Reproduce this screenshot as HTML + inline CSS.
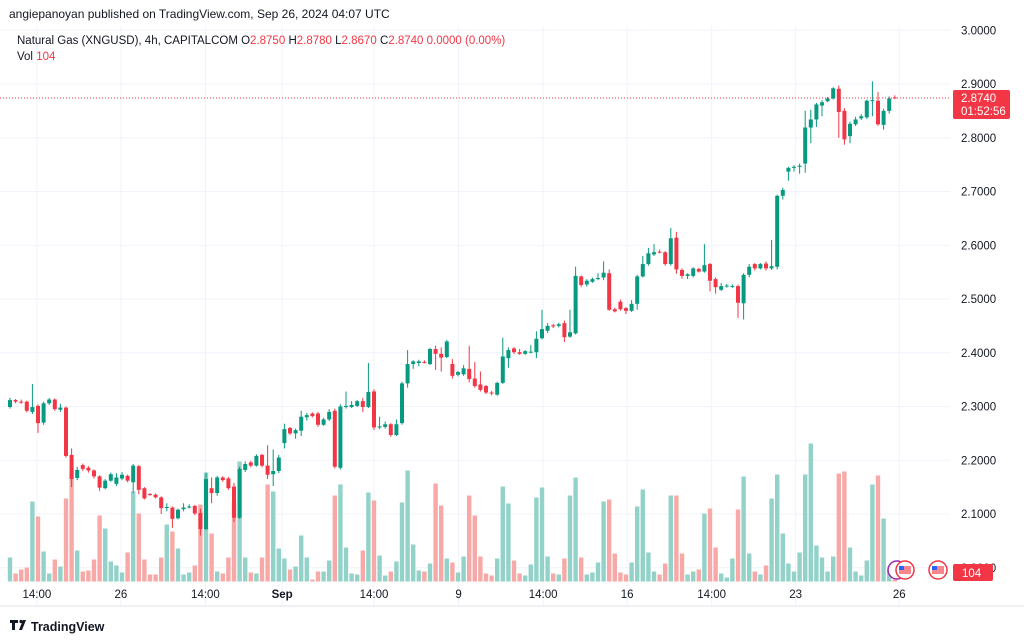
<!DOCTYPE html>
<html><head><meta charset="utf-8"><style>
html,body{margin:0;padding:0;background:#fff;width:1024px;height:641px;overflow:hidden;font-family:"Liberation Sans",sans-serif}
</style></head><body>
<svg id="chart" width="1024" height="641" xmlns="http://www.w3.org/2000/svg" style="position:absolute;left:0;top:0">
<rect x="0" y="0" width="1024" height="641" fill="#fff"/>
<g id="grid"></g>
<g id="vols"></g>
<line x1="0" y1="98" x2="950" y2="98" stroke="#F23645" stroke-width="1" stroke-dasharray="1,2"/>
<g id="candles"></g>
<g id="yaxis"></g>
<g id="xaxis"></g>
<line x1="0" y1="606" x2="1024" y2="606" stroke="#e0e3eb"/>
<text x="9" y="18" font-size="12" fill="#131722">angiepanoyan published on TradingView.com, Sep 26, 2024 04:07 UTC</text>
<text x="17" y="44" font-size="11.5" fill="#131722">Natural Gas (XNGUSD), 4h, CAPITALCOM <tspan>O</tspan><tspan fill="#F23645">2.8750</tspan> <tspan>H</tspan><tspan fill="#F23645">2.8780</tspan> <tspan>L</tspan><tspan fill="#F23645">2.8670</tspan> <tspan>C</tspan><tspan fill="#F23645">2.8740 0.0000 (0.00%)</tspan></text>
<text x="17" y="60" font-size="11.5" fill="#131722">Vol <tspan fill="#F23645">104</tspan></text>
<g>
<rect x="953" y="90" width="57" height="29" rx="2" fill="#F23645"/>
<text x="961" y="102" font-size="11.5" fill="#fff">2.8740</text>
<text x="961" y="115" font-size="11.5" fill="#fff">01:52:56</text>
</g>
<g>
<circle cx="897" cy="570" r="9" fill="#fff" stroke="#9c27b0" stroke-width="1.5"/>
<circle cx="905" cy="570" r="9" fill="#fff" stroke="#F23645" stroke-width="1.5"/>
<rect x="899" y="566" width="12" height="8" fill="#F23645" opacity="0.6"/><rect x="899" y="566" width="5" height="4" fill="#2962ff"/>
<circle cx="938" cy="570" r="9" fill="#fff" stroke="#F23645" stroke-width="1.5"/>
<rect x="932" y="566" width="12" height="8" fill="#F23645" opacity="0.6"/><rect x="932" y="566" width="5" height="4" fill="#2962ff"/>
</g>
<g>
<rect x="953" y="564" width="40" height="17" rx="2" fill="#F23645"/>
<text x="962" y="577" font-size="11.5" fill="#fff">104</text>
</g>
<g>
<path d="M10 620 h8 v3 h-3 v7 h-3 v-7 h-2z M19 630 l4 -10 h3 l-4 10z" fill="#131722"/>
<circle cx="21" cy="621.5" r="1.6" fill="#131722"/>
<text x="31" y="631" font-size="12.5" font-weight="bold" fill="#131722">TradingView</text>
</g>
</svg>
<script>
const opens=[2.299,2.312,2.309,2.309,2.290,2.301,2.270,2.306,2.313,2.294,2.298,2.210,2.167,2.191,2.186,2.181,2.170,2.148,2.162,2.156,2.166,2.171,2.159,2.189,2.148,2.137,2.136,2.131,2.112,2.112,2.092,2.109,2.114,2.115,2.102,2.072,2.148,2.139,2.168,2.166,2.151,2.093,2.182,2.196,2.190,2.210,2.190,2.174,2.180,2.232,2.260,2.250,2.255,2.280,2.287,2.287,2.266,2.276,2.292,2.186,
2.299,2.299,2.301,2.310,2.299,2.328,2.261,2.262,2.267,2.247,2.269,2.343,2.379,2.381,2.383,2.379,2.407,2.398,2.392,2.379,2.359,2.360,2.370,2.352,2.341,2.338,2.326,2.322,2.344,2.390,2.408,2.401,2.398,2.401,2.401,2.427,2.441,2.451,2.450,2.455,2.430,2.436,2.542,2.527,2.532,2.538,2.540,2.548,2.481,2.495,2.483,2.478,2.491,2.542,2.565,2.583,2.588,2.587,
2.565,2.614,2.554,2.543,2.543,2.556,2.551,2.565,2.537,2.517,2.525,2.524,2.524,2.492,2.545,2.565,2.557,2.566,2.557,2.560,2.692,2.737,2.744,2.746,2.752,2.819,2.834,2.860,2.868,2.873,2.891,2.850,2.803,2.825,2.836,2.838,2.869,2.869,2.824,2.850,2.875];
const closes=[2.312,2.309,2.308,2.292,2.299,2.269,2.306,2.313,2.295,2.298,2.208,2.165,2.182,2.184,2.181,2.170,2.149,2.162,2.174,2.168,2.173,2.162,2.190,2.145,2.129,2.136,2.131,2.111,2.113,2.091,2.108,2.112,2.114,2.101,2.072,2.165,2.139,2.168,2.163,2.148,2.093,2.184,2.193,2.190,2.208,2.190,2.173,2.180,2.205,2.258,2.250,2.256,2.281,2.284,2.282,2.266,2.276,2.290,2.188,2.300,
2.301,2.303,2.310,2.299,2.327,2.261,2.263,2.267,2.247,2.267,2.343,2.379,2.384,2.384,2.382,2.407,2.398,2.391,2.421,2.357,2.364,2.371,2.351,2.338,2.331,2.326,2.325,2.344,2.393,2.405,2.401,2.398,2.403,2.402,2.426,2.444,2.450,2.449,2.453,2.429,2.438,2.543,2.526,2.534,2.537,2.539,2.549,2.480,2.477,2.481,2.478,2.491,2.542,2.565,2.585,2.587,2.587,2.565,
2.613,2.555,2.543,2.546,2.557,2.551,2.563,2.534,2.522,2.524,2.525,2.524,2.493,2.545,2.560,2.557,2.565,2.557,2.561,2.692,2.703,2.744,2.746,2.748,2.819,2.834,2.862,2.866,2.873,2.892,2.848,2.797,2.826,2.834,2.840,2.869,2.870,2.825,2.850,2.873,2.874];
const highs=[2.316,2.314,2.313,2.311,2.342,2.304,2.309,2.316,2.315,2.305,2.300,2.222,2.188,2.194,2.189,2.183,2.172,2.165,2.177,2.176,2.178,2.173,2.193,2.191,2.150,2.139,2.138,2.133,2.120,2.114,2.110,2.120,2.118,2.117,2.110,2.177,2.168,2.171,2.170,2.169,2.158,2.188,2.198,2.199,2.211,2.212,2.228,2.220,2.210,2.268,2.262,2.259,2.292,2.288,2.289,2.290,2.279,2.295,2.296,2.304,
2.328,2.310,2.312,2.316,2.381,2.332,2.281,2.272,2.269,2.276,2.346,2.405,2.386,2.387,2.386,2.409,2.413,2.410,2.424,2.388,2.366,2.377,2.413,2.383,2.365,2.340,2.329,2.346,2.428,2.410,2.411,2.407,2.405,2.414,2.440,2.480,2.455,2.454,2.456,2.460,2.480,2.560,2.544,2.537,2.540,2.548,2.570,2.555,2.484,2.499,2.485,2.498,2.545,2.580,2.595,2.602,2.592,2.589,
2.632,2.625,2.557,2.548,2.559,2.558,2.602,2.567,2.540,2.530,2.528,2.527,2.527,2.548,2.565,2.567,2.567,2.570,2.610,2.694,2.707,2.746,2.749,2.752,2.850,2.852,2.865,2.870,2.876,2.894,2.897,2.855,2.830,2.839,2.844,2.871,2.905,2.885,2.854,2.877,2.879];
const lows=[2.296,2.306,2.305,2.289,2.286,2.251,2.266,2.303,2.292,2.290,2.205,2.150,2.163,2.180,2.177,2.166,2.143,2.146,2.160,2.152,2.163,2.159,2.139,2.137,2.127,2.134,2.129,2.100,2.105,2.074,2.090,2.105,2.110,2.098,2.060,2.070,2.120,2.134,2.160,2.145,2.085,2.091,2.178,2.187,2.188,2.187,2.165,2.152,2.176,2.222,2.247,2.240,2.245,2.274,2.280,2.262,2.264,2.273,2.185,2.183,
2.296,2.297,2.299,2.290,2.297,2.256,2.258,2.259,2.244,2.245,2.266,2.335,2.370,2.375,2.380,2.377,2.368,2.365,2.390,2.352,2.356,2.357,2.345,2.335,2.328,2.323,2.321,2.320,2.342,2.372,2.398,2.396,2.396,2.399,2.390,2.425,2.437,2.446,2.447,2.420,2.428,2.434,2.522,2.523,2.530,2.535,2.535,2.478,2.475,2.478,2.472,2.476,2.480,2.540,2.562,2.580,2.585,2.562,
2.562,2.547,2.538,2.537,2.540,2.549,2.549,2.514,2.510,2.515,2.521,2.521,2.465,2.462,2.540,2.553,2.555,2.553,2.554,2.555,2.685,2.720,2.737,2.733,2.735,2.790,2.820,2.840,2.866,2.871,2.800,2.787,2.790,2.822,2.833,2.835,2.840,2.822,2.815,2.845,2.872];
const volumes=[24,8,12,14,80,65,30,8,22,15,83,111,31,10,11,22,66,53,20,16,9,29,90,68,22,7,7,24,57,50,33,7,9,16,77,109,48,10,8,24,80,120,24,9,8,24,97,90,33,23,12,15,46,24,2,10,10,21,86,97,
34,8,7,31,89,81,26,6,10,20,79,111,37,11,10,18,98,76,23,19,9,25,86,66,25,8,6,23,95,78,21,8,6,17,84,94,25,8,7,23,86,104,24,7,9,19,80,82,28,9,7,19,75,92,29,10,7,18,
86,86,28,7,10,12,68,73,34,8,4,23,72,105,28,10,7,16,83,107,48,18,10,29,107,138,36,24,10,25,108,110,34,10,6,21,97,106,63,12,2];
const priceTicks=[2.0,2.1,2.2,2.3,2.4,2.5,2.6,2.7,2.8,2.9,3.0];
const timeLabels=["14:00","26","14:00","Sep","14:00","9","14:00","16","14:00","23","26"];
const timeLabelIdx=[4.8,19.8,34.9,48.6,65.0,80.1,95.2,110.2,125.3,140.3,158.8];

const NS="http://www.w3.org/2000/svg";
const X0=10,DX=5.6;
function xScale(i){return X0+i*DX;}
function yScale(p){return 84+(2.9-p)*537.5;}
const VBASE=581.5;
function vScale(v){return VBASE-v*1.0;}
function mk(tag,attrs,parent){const e=document.createElementNS(NS,tag);for(const k in attrs)e.setAttribute(k,attrs[k]);parent.appendChild(e);return e;}

const grid=document.getElementById('grid');
const yaxis=document.getElementById('yaxis');
priceTicks.forEach(p=>{
  const y=yScale(p);
  const l=mk('line',{x1:0,x2:950,y1:y,y2:y,stroke:'#f0f3fa','stroke-width':1},grid);
  
  
  const t=mk('text',{x:961,y:y+4,'font-size':11.5,fill:'#131722'},yaxis);
  t.textContent=p.toFixed(4);
  
  
});
const xaxis=document.getElementById('xaxis');
timeLabels.forEach((lab,k)=>{
  const x=xScale(timeLabelIdx[k]);
  const l=mk('line',{x1:x,x2:x,y1:26,y2:606,stroke:'#f0f3fa','stroke-width':1},grid);
  
  
  const t=mk('text',{x:x,y:598,'font-size':11.5,fill:'#131722','text-anchor':'middle','font-weight':lab==='Sep'?'bold':'normal'},xaxis);
  t.textContent=lab;
  
  
});
const vg=document.getElementById('vols');
const cg=document.getElementById('candles');
for(let i=0;i<opens.length;i++){
  const up=closes[i]>=opens[i];
  const x=xScale(i);
  const vb=mk('rect',{x:x-2.2,y:vScale(volumes[i]),width:4.4,height:VBASE-vScale(volumes[i]),fill:up?'#92d2c8':'#f7a9a7'},vg);
  
  
  const col=up?'#089981':'#F23645';
  const w=mk('line',{x1:x,x2:x,y1:yScale(highs[i]),y2:yScale(lows[i]),stroke:col,'stroke-width':1},cg);
  
  
  const top=yScale(Math.max(opens[i],closes[i])),bot=yScale(Math.min(opens[i],closes[i]));
  const b=mk('rect',{x:x-2,y:top,width:4,height:Math.max(1,bot-top),fill:col},cg);
  
  
}
</script>
</body></html>
